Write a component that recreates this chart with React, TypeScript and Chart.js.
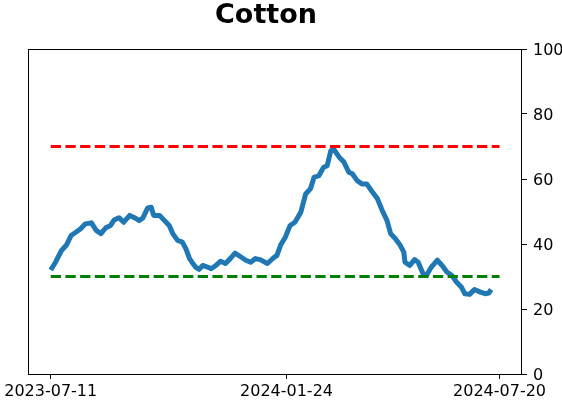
import React, { useEffect, useRef } from "react";
import { Chart, registerables } from "chart.js";

Chart.register(...registerables);

const title = "Cotton";
const startDate = "2023-07-11";
const tickDays = [0, 197, 375];
const tickLabels = ["2023-07-11", "2024-01-24", "2024-07-20"];
const yTicks = [0, 20, 40, 60, 80, 100];
const upperLevel = 70;
const lowerLevel = 30;
const lastDay = 375;

const dayOffsets = [
  0, 4, 9, 13, 17, 21, 25, 29, 34, 38, 42, 46, 50, 53, 57, 61, 66, 70, 74, 77,
  81, 84, 86, 91, 95, 99, 102, 106, 110, 113, 116, 118, 121, 124, 127, 131, 134, 138, 142, 146,
  150, 154, 159, 163, 167, 171, 175, 181, 186, 189, 192, 196, 200, 204, 209, 213, 217, 220, 224, 228,
  231, 234, 237, 241, 245, 249, 252, 256, 260, 264, 268, 273, 277, 281, 284, 288, 292, 295, 296, 300,
  304, 307, 311, 314, 318, 323, 327, 331, 335, 339, 343, 346, 350, 354, 359, 363, 366, 368,
];
const values = [
  32, 34.4, 38, 39.6, 42.6, 43.6, 44.7, 46.2, 46.5, 44.2, 43.2, 45, 45.7, 47.4, 48.1, 46.7, 48.8, 48.1, 47.2, 48,
  51.1, 51.3, 48.8, 48.8, 47.2, 45.7, 43.2, 41.1, 40.6, 38.5, 35.5, 34.4, 32.9, 32.2, 33.4, 32.9, 32.4, 33.4, 34.7, 34,
  35.5, 37.2, 36, 35, 34.4, 35.5, 35.2, 34, 35.7, 36.5, 39.6, 42.1, 45.7, 46.7, 49.8, 55.4, 57, 60.5, 61, 63.6,
  64.1, 68.7, 68.9, 66.7, 65.2, 62.1, 61.6, 59.5, 58.5, 58.5, 56.4, 53.9, 50.3, 47.2, 43.2, 41.6, 39.6, 37.5, 34.4, 33.4,
  35.2, 34.4, 30.9, 30.4, 32.9, 35, 33.4, 31.4, 30.4, 28.3, 26.8, 24.7, 24.5, 26, 25.2, 24.7, 24.9, 26,
];

const FONT = "'DejaVu Sans', sans-serif";

export default function App() {
  const ref = useRef<HTMLCanvasElement | null>(null);

  useEffect(() => {
    const canvas = ref.current;
    if (!canvas) return;
    const span = lastDay;
    const margin = span * 0.05;

    const framePlugin = {
      id: "frame",
      afterDraw(chart: any) {
        const { ctx, chartArea } = chart;
        ctx.save();
        ctx.strokeStyle = "#000";
        ctx.lineWidth = 1;
        ctx.strokeRect(
          Math.round(chartArea.left) + 0.5,
          Math.round(chartArea.top) + 0.5,
          Math.round(chartArea.right - chartArea.left) - 1,
          Math.round(chartArea.bottom - chartArea.top)
        );
        ctx.fillStyle = "#000";
        ctx.font = `bold 27px ${FONT}`;
        ctx.textAlign = "center";
        ctx.textBaseline = "alphabetic";
        ctx.fillText(title, 266, 23);
        ctx.restore();
      },
    };

    const chart = new Chart(canvas, {
      type: "line",
      data: {
        datasets: [
          {
            data: [
              { x: 0, y: upperLevel },
              { x: lastDay, y: upperLevel },
            ],
            borderColor: "#ff0000",
            borderWidth: 2.8,
            borderDash: [10.3, 4.4],
            pointRadius: 0,
            fill: false,
          },
          {
            data: [
              { x: 0, y: lowerLevel },
              { x: lastDay, y: lowerLevel },
            ],
            borderColor: "#008000",
            borderWidth: 2.8,
            borderDash: [10.3, 4.4],
            pointRadius: 0,
            fill: false,
          },
          {
            label: startDate,
            data: dayOffsets.map((d, i) => ({ x: d, y: values[i] })),
            borderColor: "#1f77b4",
            borderWidth: 5,
            borderJoinStyle: "round",
            borderCapStyle: "butt",
            pointRadius: 0,
            tension: 0,
            fill: false,
          },
        ],
      },
      options: {
        animation: false,
        responsive: false,
        devicePixelRatio: 1,
        layout: { padding: { left: 27, top: 49, right: 0, bottom: 0 } },
        plugins: {
          legend: { display: false },
          tooltip: { enabled: false },
          title: { display: false },
        },
        scales: {
          x: {
            type: "linear",
            min: -margin,
            max: span + margin,
            afterBuildTicks(scale: any) {
              scale.ticks = tickDays.map((v) => ({ value: v }));
            },
            afterFit(scale: any) {
              scale.height = 28;
            },
            border: { display: false },
            grid: {
              drawOnChartArea: false,
              drawTicks: true,
              tickLength: 5,
              tickColor: "#000",
            },
            ticks: {
              autoSkip: false,
              maxRotation: 0,
              padding: 3,
              color: "#000",
              font: { family: FONT, size: 16 },
              callback(value: any) {
                const idx = tickDays.indexOf(Number(value));
                return idx >= 0 ? tickLabels[idx] : "";
              },
            },
          },
          y: {
            position: "right",
            min: 0,
            max: 100,
            afterBuildTicks(scale: any) {
              scale.ticks = yTicks.map((v) => ({ value: v }));
            },
            afterFit(scale: any) {
              scale.width = 40;
            },
            border: { display: false },
            grid: {
              drawOnChartArea: false,
              drawTicks: true,
              tickLength: 5,
              tickColor: "#000",
            },
            ticks: {
              padding: 6,
              labelOffset: 2,
              color: "#000",
              font: { family: FONT, size: 16 },
            },
          },
        },
      },
      plugins: [framePlugin],
    } as any);

    return () => chart.destroy();
  }, []);

  return (
    <div style={{ position: "fixed", left: 0, top: 0, width: 562, height: 402, background: "#fff" }}>
      <canvas ref={ref} width={562} height={402} style={{ display: "block" }} />
    </div>
  );
}
